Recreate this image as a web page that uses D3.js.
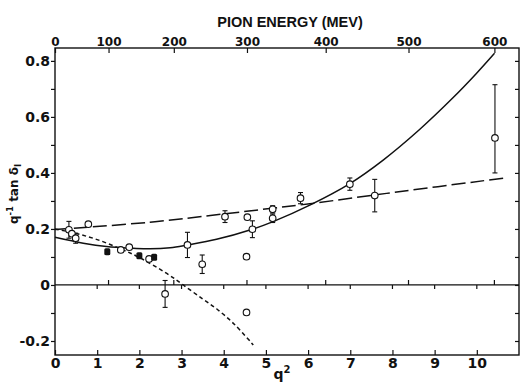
<!DOCTYPE html>
<html>
<head>
<meta charset="utf-8">
<script src="https://cdn.jsdelivr.net/npm/d3@7"></script>
<style>
  body { margin: 0; background: #fff; }
  svg { display: block; }
</style>
</head>
<body>
<svg id="chart"></svg>
<script>
// tick labels
const q2Ticks = [0, 1, 2, 3, 4, 5, 6, 7, 8, 9, 10];
const yTicks = [-0.2, 0, 0.2, 0.4, 0.6, 0.8];
const yMinorTicks = [-0.2, -0.1, 0, 0.1, 0.2, 0.3, 0.4, 0.5, 0.6, 0.7, 0.8];
const energyTicks = [0, 100, 200, 300, 400, 500, 600];

// open circles (q^2, value, error down, error up) - 0 means no bar
const openQ2    = [0.33, 0.40, 0.49, 0.79, 1.56, 1.76, 2.23, 2.61, 3.14, 3.49, 4.03, 4.56, 4.54, 4.54, 4.68, 5.16, 5.16, 5.82, 6.99, 7.58, 10.43];
const openVal   = [0.197, 0.183, 0.167, 0.217, 0.125, 0.135, 0.093, -0.032, 0.143, 0.074, 0.244, 0.242, 0.101, -0.098, 0.199, 0.270, 0.238, 0.310, 0.360, 0.319, 0.525];
const openErrLo = [0.03, 0, 0.018, 0, 0, 0, 0, 0.048, 0.045, 0.033, 0.021, 0, 0, 0, 0.03, 0.013, 0.015, 0.02, 0.022, 0.058, 0.125];
const openErrHi = [0.03, 0, 0.018, 0, 0, 0, 0, 0.048, 0.045, 0.033, 0.021, 0, 0, 0, 0.03, 0.013, 0.015, 0.02, 0.022, 0.058, 0.19];

// filled points
const filledQ2  = [1.24, 2.0, 2.35];
const filledVal = [0.119, 0.104, 0.099];

// solid curve
const solidQ2  = [0, 0.67, 1.22, 1.85, 2.25, 2.73, 3.14, 3.83, 4.68, 5.17, 6.04, 6.99, 7.78, 8.65, 9.44, 9.99, 10.42];
const solidVal = [0.170, 0.149, 0.137, 0.131, 0.129, 0.133, 0.143, 0.163, 0.199, 0.226, 0.285, 0.362, 0.446, 0.556, 0.669, 0.755, 0.827];

// long dashed line
const longDashQ2  = [0, 2.25, 4.03, 5.09, 6.04, 7.86, 10.66];
const longDashVal = [0.198, 0.224, 0.254, 0.273, 0.290, 0.327, 0.382];

// short dashed curve
const shortDashQ2  = [0, 0.5, 1.0, 1.54, 2.0, 2.65, 3.04, 3.5, 3.83, 4.25, 4.70];
const shortDashVal = [0.200, 0.184, 0.162, 0.130, 0.098, 0.041, 0.0, -0.050, -0.085, -0.140, -0.214];

// lab pion kinetic energy (MeV) -> cm momentum squared in pion mass units
const mPi = 139.6, mN = 938.3;
const energyToQ2 = t => {
  const s = (mN + mPi) ** 2 + 2 * mN * t;
  return mN * mN * t * (t + 2 * mPi) / s / (mPi * mPi);
};

const width = 521, height = 382;
const margin = {top: 48, right: 2, bottom: 27, left: 55};
const innerWidth = width - margin.left - margin.right;
const innerHeight = height - margin.top - margin.bottom;
const numFont = '"DejaVu Sans", sans-serif';

const svg = d3.select('#chart')
  .attr('width', width)
  .attr('height', height);

const g = svg.append('g')
  .attr('transform', `translate(${margin.left}, ${margin.top})`);

const x = d3.scaleLinear().domain([0, 11]).range([0, innerWidth]);
const y = d3.scaleLinear().domain([-0.25, 0.846]).range([innerHeight, 0]);

const fmtY = d => d === 0 ? '0' : d.toFixed(1);
const isMajor = d => yTicks.some(t => Math.abs(t - d) < 1e-9);

// left axis, ticks outside
const yAxisG = g.append('g')
  .call(d3.axisLeft(y)
    .tickValues(yMinorTicks)
    .tickSize(4)
    .tickPadding(1)
    .tickFormat(d => isMajor(d) ? fmtY(d) : ''));

// right axis, ticks inside
const yAxisRG = g.append('g')
  .attr('transform', `translate(${innerWidth}, 0)`)
  .call(d3.axisLeft(y).tickValues(yMinorTicks).tickSize(4).tickFormat(''));

// bottom axis, ticks pointing up
const xAxisG = g.append('g')
  .attr('transform', `translate(0, ${innerHeight})`)
  .call(d3.axisBottom(x)
    .tickValues(q2Ticks)
    .tickSize(-5)
    .tickPadding(3)
    .tickFormat(d3.format('')));

// top axis in pion energy
const topAxisG = g.append('g')
  .call(d3.axisTop(x)
    .tickValues(energyTicks.map(energyToQ2))
    .tickSize(-5)
    .tickPadding(2)
    .tickFormat((d, i) => energyTicks[i]));

[yAxisG, yAxisRG, xAxisG, topAxisG].forEach(a => {
  a.select('.domain').remove();
  a.attr('font-family', numFont).attr('font-weight', 'bold');
  a.selectAll('line').attr('stroke', '#111').attr('stroke-width', 1.2);
  a.selectAll('text').filter(function () { return this.textContent === ''; }).remove();
  a.selectAll('text').attr('fill', '#111');
});
yAxisG.attr('font-size', 14);
xAxisG.attr('font-size', 14);
topAxisG.attr('font-size', 12);

// frame
g.append('rect')
  .attr('width', innerWidth)
  .attr('height', innerHeight)
  .attr('fill', 'none')
  .attr('stroke', '#111')
  .attr('stroke-width', 1.4);

// zero line, q^2 ticks below and energy ticks above
g.append('line')
  .attr('x1', 0).attr('x2', innerWidth)
  .attr('y1', y(0)).attr('y2', y(0))
  .attr('stroke', '#111').attr('stroke-width', 1.3);

g.selectAll('.zq')
  .data(q2Ticks.slice(1)).enter()
  .append('line')
  .attr('x1', d => x(d)).attr('x2', d => x(d))
  .attr('y1', y(0)).attr('y2', y(0) + 4)
  .attr('stroke', '#111').attr('stroke-width', 1.2);

g.selectAll('.ze')
  .data(energyTicks.slice(1)).enter()
  .append('line')
  .attr('x1', d => x(energyToQ2(d))).attr('x2', d => x(energyToQ2(d)))
  .attr('y1', y(0)).attr('y2', y(0) - 5)
  .attr('stroke', '#111').attr('stroke-width', 1.2);

// curves
const line = d3.line()
  .x(d => x(d[0]))
  .y(d => y(d[1]))
  .curve(d3.curveCatmullRom.alpha(0.5));

const curves = [
  {xs: solidQ2, ys: solidVal, dash: null},
  {xs: longDashQ2, ys: longDashVal, dash: '14,5'},
  {xs: shortDashQ2, ys: shortDashVal, dash: '4,3'}
];

curves.forEach(c => {
  g.append('path')
    .datum(d3.zip(c.xs, c.ys))
    .attr('d', line)
    .attr('fill', 'none')
    .attr('stroke', '#111')
    .attr('stroke-width', 1.5)
    .attr('stroke-dasharray', c.dash);
});

// error bars
const openData = openQ2.map((q, i) => ({q, v: openVal[i], lo: openErrLo[i], hi: openErrHi[i]}));
const withErr = openData.filter(d => d.lo > 0);

const bars = g.selectAll('.err')
  .data(withErr).enter()
  .append('g')
  .attr('stroke', '#111')
  .attr('stroke-width', 1.1);

bars.append('line')
  .attr('x1', d => x(d.q)).attr('x2', d => x(d.q))
  .attr('y1', d => y(d.v - d.lo)).attr('y2', d => y(d.v + d.hi));
bars.append('line')
  .attr('x1', d => x(d.q) - 2.5).attr('x2', d => x(d.q) + 2.5)
  .attr('y1', d => y(d.v - d.lo)).attr('y2', d => y(d.v - d.lo));
bars.append('line')
  .attr('x1', d => x(d.q) - 2.5).attr('x2', d => x(d.q) + 2.5)
  .attr('y1', d => y(d.v + d.hi)).attr('y2', d => y(d.v + d.hi));

// markers
g.selectAll('.open')
  .data(openData).enter()
  .append('circle')
  .attr('cx', d => x(d.q))
  .attr('cy', d => y(d.v))
  .attr('r', 3.3)
  .attr('fill', '#fff')
  .attr('stroke', '#111')
  .attr('stroke-width', 1.1);

g.selectAll('.filled')
  .data(d3.zip(filledQ2, filledVal)).enter()
  .append('rect')
  .attr('x', d => x(d[0]) - 3)
  .attr('y', d => y(d[1]) - 3.5)
  .attr('width', 6)
  .attr('height', 7)
  .attr('rx', 1.5)
  .attr('fill', '#111');

// titles
svg.append('text')
  .attr('x', 290)
  .attr('y', 27)
  .attr('text-anchor', 'middle')
  .attr('font-family', '"Liberation Sans", Arial, sans-serif')
  .attr('font-weight', 'bold')
  .attr('font-size', 14.5)
  .attr('fill', '#111')
  .text('PION ENERGY (MEV)');

const xt = svg.append('text')
  .attr('x', 282)
  .attr('y', 379)
  .attr('text-anchor', 'middle')
  .attr('font-family', numFont)
  .attr('font-weight', 'bold')
  .attr('font-size', 14)
  .attr('fill', '#111');
xt.append('tspan').text('q');
xt.append('tspan').attr('dy', -6).attr('font-size', 10).text('2');

const yt = svg.append('text')
  .attr('transform', 'translate(18, 194) rotate(-90)')
  .attr('text-anchor', 'middle')
  .attr('font-family', numFont)
  .attr('font-weight', 'bold')
  .attr('font-size', 12)
  .attr('fill', '#111');
yt.append('tspan').text('q');
yt.append('tspan').attr('dy', -5).attr('font-size', 8.5).text('-1');
yt.append('tspan').attr('dy', 5).text(' tan δ');
yt.append('tspan').attr('dy', 3).attr('font-size', 8.5).text('I');
</script>
</body>
</html>
